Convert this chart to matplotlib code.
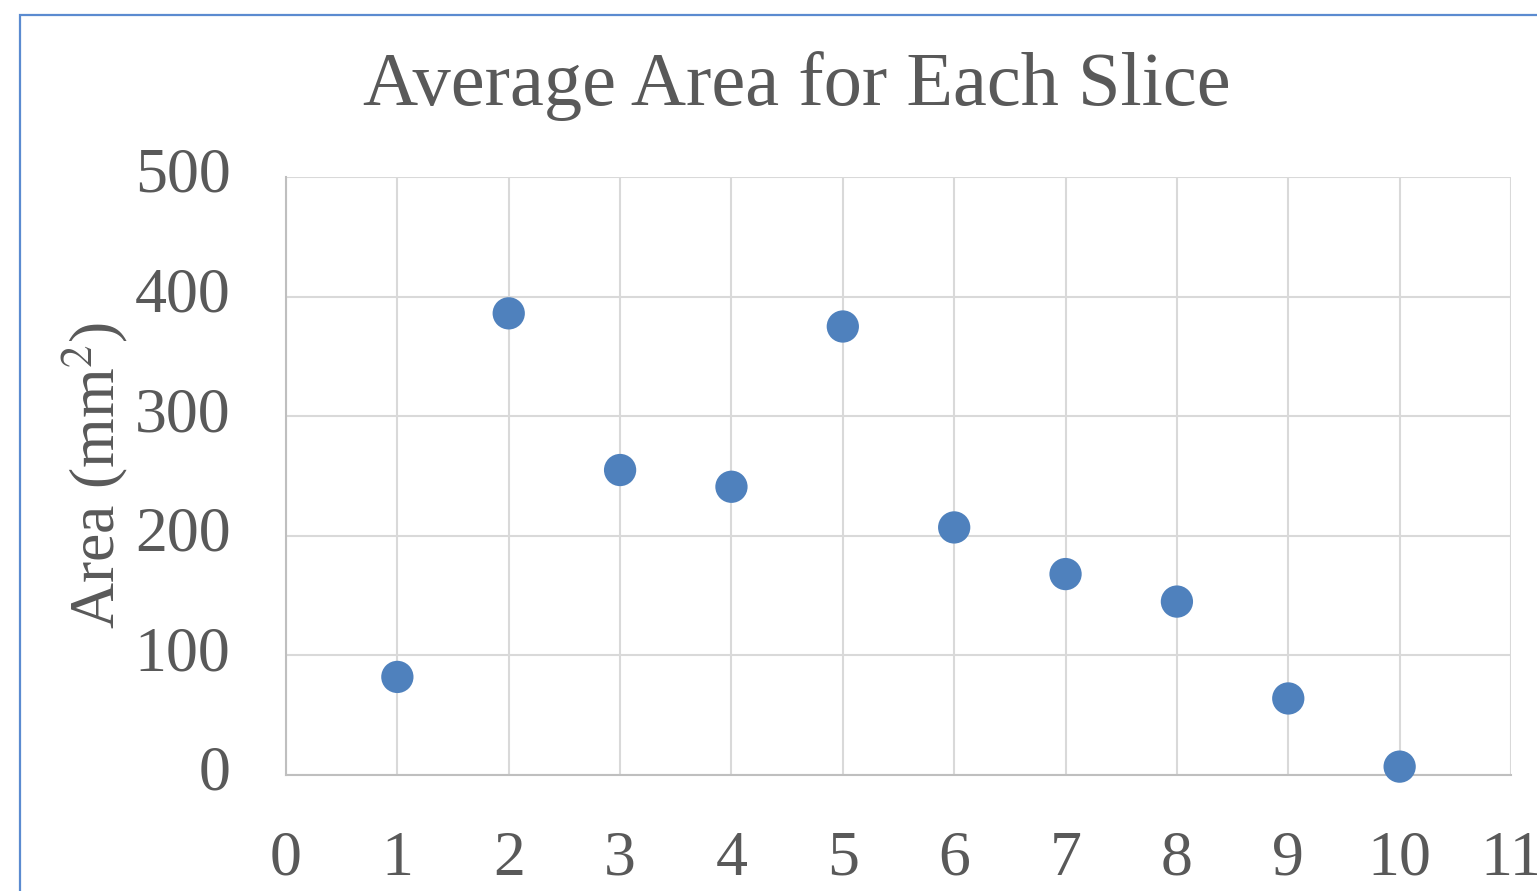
import matplotlib
matplotlib.use("Agg")
import matplotlib.pyplot as plt
from matplotlib.patches import Rectangle

# data
slices = [1, 2, 3, 4, 5, 6, 7, 8, 9, 10]
area = [82, 386, 255, 241, 375, 207, 168, 145, 64, 7]
x_ticks = list(range(0, 12))
y_ticks = [0, 100, 200, 300, 400, 500]

text_color = "#595959"
grid_color = "#D9D9D9"
dot_color = "#4F81BD"

plt.rcParams["font.family"] = ["Liberation Serif", "DejaVu Serif"]

W, H = 1537, 891
fig = plt.figure(figsize=(W / 100, H / 100), dpi=100)

# chart-area border (cropped at right and bottom in the reference)
fig.patches.append(Rectangle((20 / W, -0.05), 1.1, 1 - 15 / H + 0.05,
                             transform=fig.transFigure, fill=False,
                             edgecolor="#5B8BD0", linewidth=1.6))

ax = fig.add_axes([286 / W, 1 - 775 / H, (1511 - 286) / W, (775 - 177) / H])
ax.scatter(slices, area, s=540, color=dot_color, zorder=3, clip_on=False,
           edgecolors="none")

ax.set_xlim(0, 11)
ax.set_ylim(0, 500)
ax.set_xticks(x_ticks)
ax.set_yticks(y_ticks)
ax.grid(True, color=grid_color, linewidth=1.5, zorder=0)
ax.set_axisbelow(True)
for side in ["top", "right"]:
    ax.spines[side].set_visible(False)
for side in ["left", "bottom"]:
    ax.spines[side].set_color("#BFBFBF")
    ax.spines[side].set_linewidth(1.5)
ax.tick_params(length=0, labelsize=46, colors=text_color)
ax.tick_params(axis="y", pad=40)
ax.tick_params(axis="x", pad=40)
for lbl in ax.get_yticklabels():
    lbl.set_verticalalignment("center")

fig.text(95 / W, 1 - 475 / H, "Area (mm$^2$)", rotation=90, ha="center",
         va="center", fontsize=46, color=text_color,
         math_fontfamily="stix")
fig.text(797 / W, 1 - 86 / H, "Average Area for Each Slice", ha="center",
         va="center", fontsize=55, color=text_color)

fig.savefig("out.png", dpi=100)
